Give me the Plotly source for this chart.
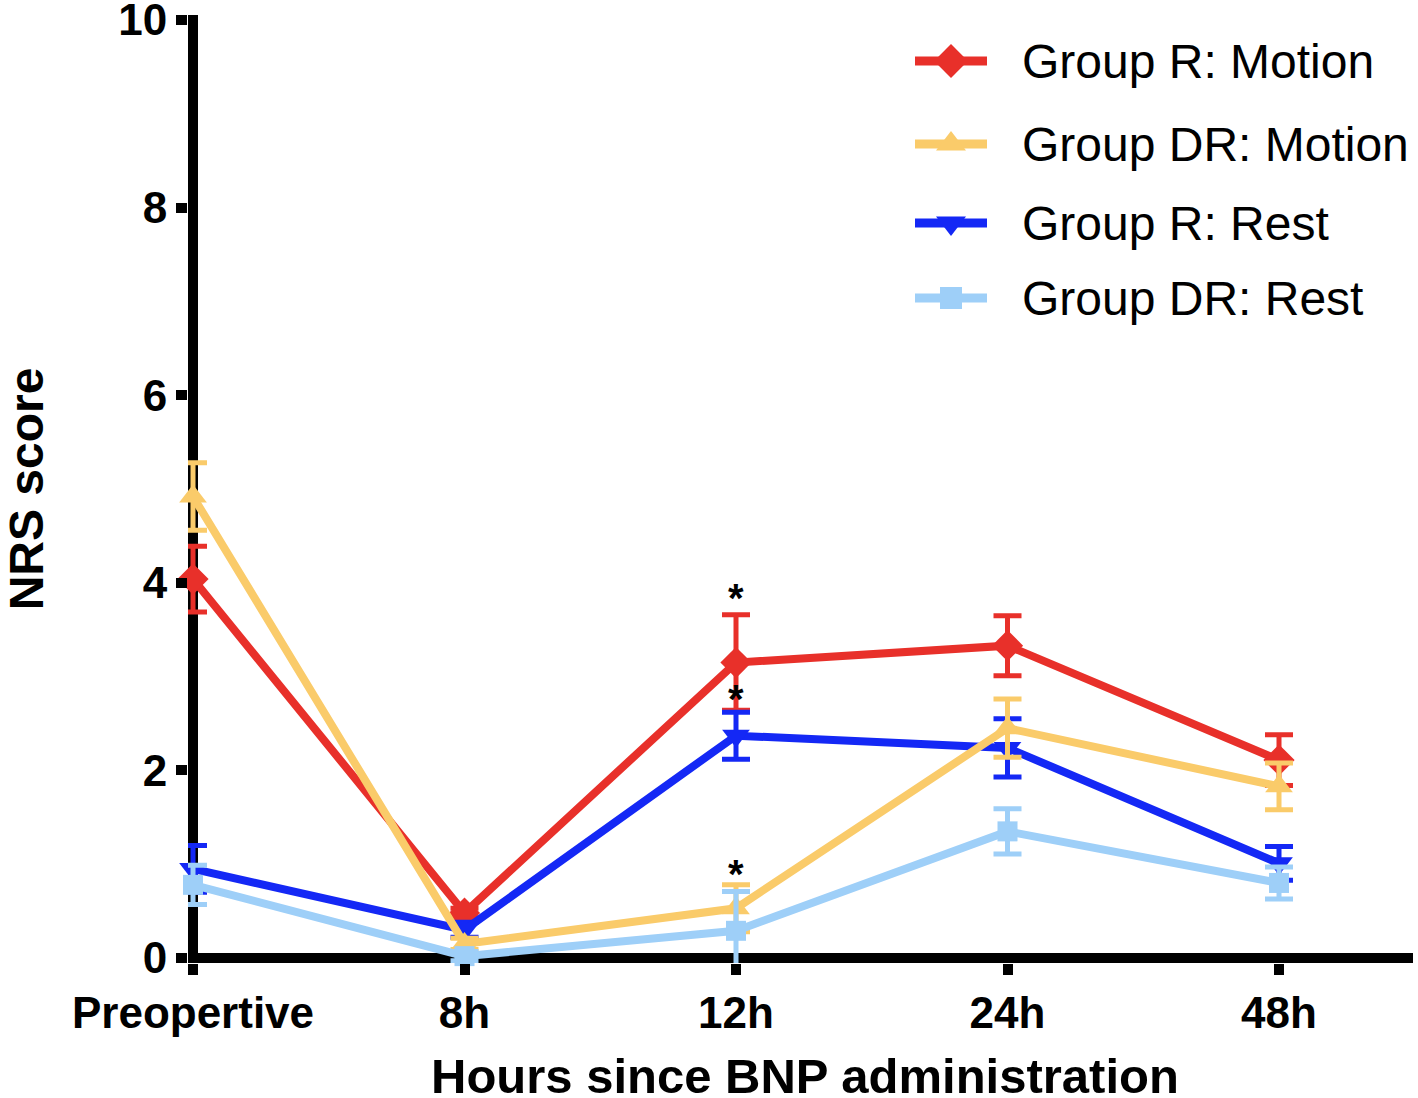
import plotly.graph_objects as go

categories = ["Preopertive", "8h", "12h", "24h", "48h"]
x_pos = [0, 1, 2, 3, 4]

r_motion = [4.04, 0.48, 3.15, 3.33, 2.11]
r_motion_err = [0.35, 0.05, 0.51, 0.32, 0.27]

dr_motion = [4.92, 0.15, 0.53, 2.45, 1.83]
dr_motion_err = [0.36, 0.06, 0.25, 0.31, 0.25]

r_rest = [0.95, 0.30, 2.37, 2.24, 1.01]
r_rest_err = [0.25, 0.08, 0.25, 0.31, 0.18]

dr_rest = [0.78, 0.02, 0.29, 1.35, 0.80]
dr_rest_err = [0.21, 0.05, 0.42, 0.24, 0.17]

star_y = [3.84, 2.76, 0.90]

y_ticks = [0, 2, 4, 6, 8, 10]

# (name, values, errors, colour, symbol, marker size, legend row)
series = [
    ("Group R: Motion", r_motion, r_motion_err, "#E8302A", "diamond", 24, 0),
    ("Group R: Rest", r_rest, r_rest_err, "#1428F5", "triangle-down", 24, 2),
    ("Group DR: Motion", dr_motion, dr_motion_err, "#FACB6A", "triangle-up", 24, 1),
    ("Group DR: Rest", dr_rest, dr_rest_err, "#9ECFF8", "square", 20, 3),
]

W, H = 1418, 1098
ML, MR, MT, MB = 188, 5, 15, 135
ux = 271.5
uy = 93.8
AX_W = 10  # axis line thickness (drawn as zero lines, centred on 0)
PW, PH = W - ML - MR, H - MT - MB


def px_x(p):
    return (p - ML) / PW


def px_y(p):
    return (H - MB - p) / PH


fig = go.Figure()
for name, ys, es, col, sym, ms, row in series:
    fig.add_trace(go.Scatter(
        x=x_pos, y=ys, name=name, mode="lines+markers",
        line=dict(color=col, width=8),
        marker=dict(color=col, symbol=sym, size=ms, line=dict(width=0)),
        error_y=dict(type="data", array=es, visible=True, color=col,
                     thickness=5, width=14),
        cliponaxis=False, showlegend=False,
    ))

for sy in star_y:
    fig.add_annotation(x=2, y=sy, text="<b>*</b>", showarrow=False,
                       font=dict(size=40, color="black", family="Liberation Sans"),
                       xanchor="center", yanchor="middle")

# Manual legend, positioned in page-pixel coordinates via overlay axes
leg_rows = [61, 144, 223, 298]
for name, ys, es, col, sym, ms, row in series:
    yy = leg_rows[row]
    fig.add_trace(go.Scatter(
        x=[915, 987], y=[yy, yy], mode="lines", xaxis="x2", yaxis="y2",
        line=dict(color=col, width=9), showlegend=False, hoverinfo="skip",
        cliponaxis=False))
    fig.add_trace(go.Scatter(
        x=[951], y=[yy], mode="markers", xaxis="x2", yaxis="y2",
        marker=dict(color=col, symbol=sym, size=ms + 2, line=dict(width=0)),
        showlegend=False, hoverinfo="skip", cliponaxis=False))
    fig.add_annotation(x=1020, y=yy, xref="x2", yref="y2", text=name,
                       showarrow=False, xanchor="left", yanchor="middle",
                       font=dict(size=48, color="black", family="Liberation Sans"))

# x-axis title (placed as text under the tick labels)
fig.add_annotation(x=px_x(805), y=px_y(1076), xref="paper", yref="paper",
                   text="<b>Hours since BNP administration</b>", showarrow=False,
                   xanchor="center", yanchor="middle",
                   font=dict(size=49, color="black", family="Liberation Sans"))

half = AX_W / 2
fig.update_layout(
    width=W, height=H,
    margin=dict(l=ML, r=MR, t=MT, b=MB),
    plot_bgcolor="white", paper_bgcolor="white",
    font=dict(family="Liberation Sans", color="black"),
    showlegend=False,
    hovermode=False,
    xaxis=dict(range=[-half / ux, -half / ux + PW / ux], tickvals=x_pos,
               ticktext=["<b>%s</b>" % c for c in categories],
               tickfont=dict(size=44, family="Liberation Sans"),
               showline=False, zeroline=True, zerolinecolor="black",
               zerolinewidth=AX_W,
               ticks="outside", ticklen=11, tickwidth=10, tickcolor="black",
               showgrid=False, automargin=False,
               ticklabeloverflow="allow"),
    yaxis=dict(range=[-half / uy, 10 + half / uy], tickvals=y_ticks,
               ticktext=["<b>%d</b>" % v for v in y_ticks],
               tickfont=dict(size=44, family="Liberation Sans"),
               showline=False, zeroline=True, zerolinecolor="black",
               zerolinewidth=AX_W,
               ticks="outside", ticklen=11, tickwidth=10, tickcolor="black",
               showgrid=False, automargin=False,
               ticklabeloverflow="allow",
               title=dict(text="<b>NRS score</b>",
                          font=dict(size=48, family="Liberation Sans"),
                          standoff=92)),
    xaxis2=dict(overlaying="x", range=[ML, W - MR], visible=False,
                fixedrange=True),
    yaxis2=dict(overlaying="y", range=[H - MB, MT], visible=False,
                fixedrange=True),
)

# remove the browser's default 8px page margin so the figure fills the window
fig.write_html("out.html", config={"displayModeBar": False},
               post_script="document.body.style.margin='0px';")
